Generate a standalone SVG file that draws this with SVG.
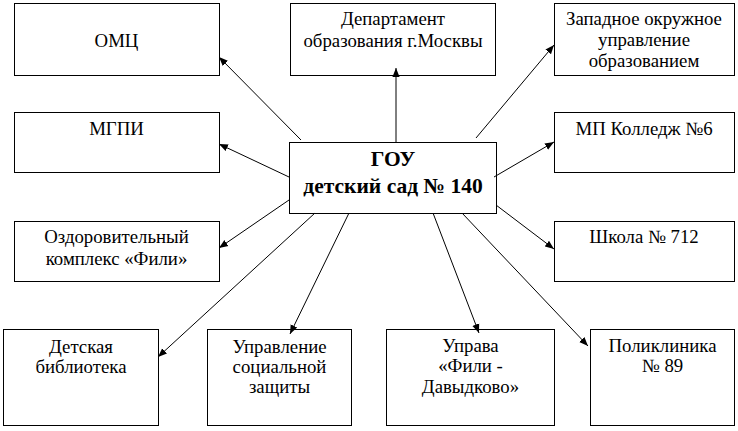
<svg xmlns="http://www.w3.org/2000/svg" width="738" height="431" viewBox="0 0 738 431">
<style>
rect{fill:#fff;stroke:#000;stroke-width:1}
text{font-family:"Liberation Serif","Times New Roman",serif;font-size:18.8px;fill:#000;text-anchor:middle}
.b{font-weight:bold;font-size:21.5px}
#connectors line{stroke:#000;stroke-width:1;marker-end:url(#ah)}
</style>
<defs>
<marker id="ah" viewBox="0 0 10 10" refX="10" refY="5" markerWidth="9" markerHeight="9" markerUnits="userSpaceOnUse" orient="auto">
<path d="M0,1 L10,5 L0,9 z" fill="#000"/>
</marker>
</defs>
<rect x="0" y="0" width="738" height="431" style="stroke:none"/>
<g id="omc"><rect x="14.5" y="3.5" width="205" height="72"/><text x="116.5" y="47">ОМЦ</text></g>
<g id="dept"><rect x="290.5" y="3.5" width="205" height="72"/><text x="393" y="25">Департамент</text><text x="393" y="47">образования г.Москвы</text></g>
<g id="zapad"><rect x="554.5" y="3.5" width="180" height="72"/><text x="644" y="25">Западное окружное</text><text x="644" y="46">управление</text><text x="644" y="67">образованием</text></g>
<g id="mgpi"><rect x="14.5" y="112.5" width="205" height="60"/><text x="116.5" y="135">МГПИ</text></g>
<g id="center"><rect x="289.5" y="142.5" width="207" height="71"/><text class="b" x="393" y="166">ГОУ</text><text class="b" x="393" y="193">детский сад № 140</text></g>
<g id="mp"><rect x="554.5" y="112.5" width="180" height="60"/><text x="644" y="135">МП Колледж №6</text></g>
<g id="ozd"><rect x="14.5" y="221.5" width="205" height="60"/><text x="116.5" y="243">Оздоровительный</text><text x="116.5" y="265">комплекс «Фили»</text></g>
<g id="school"><rect x="554.5" y="221.5" width="180" height="60"/><text x="644" y="243">Школа № 712</text></g>
<g id="lib"><rect x="3.5" y="329.5" width="155" height="96"/><text x="81" y="353">Детская</text><text x="81" y="373">библиотека</text></g>
<g id="soc"><rect x="207.5" y="329.5" width="144" height="96"/><text x="279.5" y="353">Управление</text><text x="279.5" y="373">социальной</text><text x="279.5" y="393">защиты</text></g>
<g id="uprava"><rect x="386.5" y="329.5" width="168" height="96"/><text x="470.5" y="352">Управа</text><text x="470.5" y="372">«Фили -</text><text x="470.5" y="393">Давыдково»</text></g>
<g id="poly"><rect x="590.5" y="329.5" width="144" height="96"/><text x="662.5" y="352">Поликлиника</text><text x="662.5" y="372">№ 89</text></g>
<g id="connectors">
<line x1="301" y1="140" x2="219" y2="57"/>
<line x1="289" y1="177" x2="219" y2="144"/>
<line x1="289" y1="200" x2="219" y2="248"/>
<line x1="315" y1="213" x2="158" y2="357"/>
<line x1="349" y1="213" x2="290" y2="334"/>
<line x1="433" y1="213" x2="479" y2="333"/>
<line x1="462" y1="213" x2="588" y2="346"/>
<line x1="496" y1="205" x2="554" y2="249"/>
<line x1="494" y1="177" x2="554" y2="142"/>
<line x1="476" y1="138" x2="554" y2="45"/>
<line x1="396" y1="142" x2="396" y2="68"/>
</g>
</svg>
